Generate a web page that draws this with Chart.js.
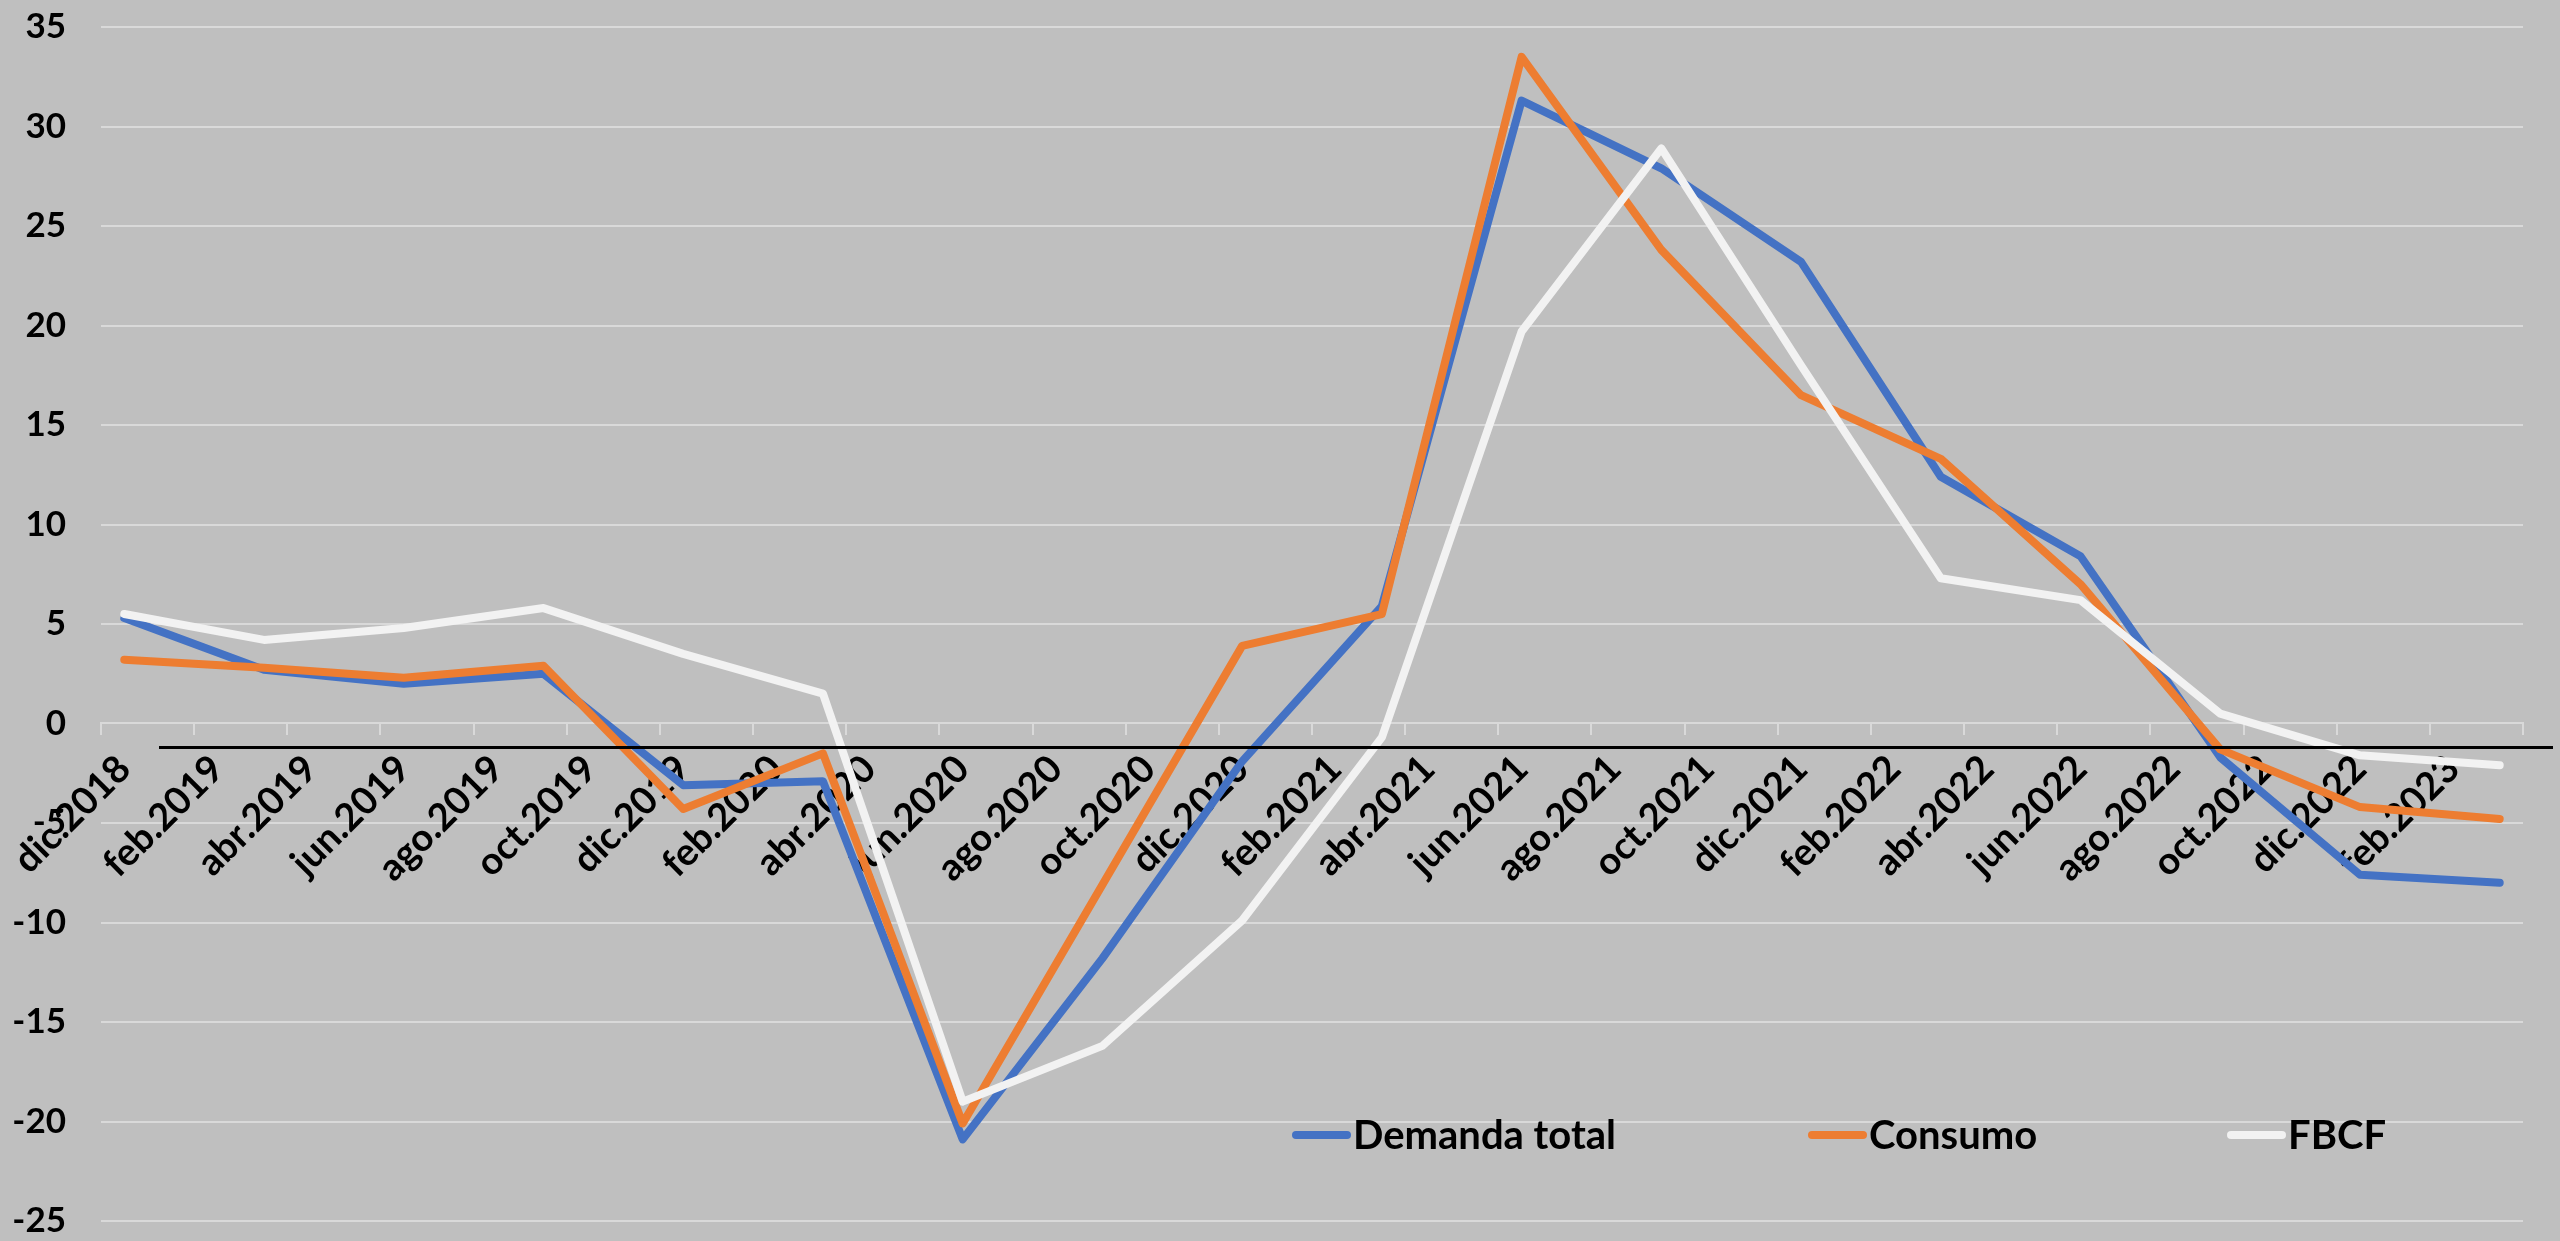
<!DOCTYPE html>
<html>
<head>
<meta charset="utf-8">
<script src="https://cdn.jsdelivr.net/npm/chart.js@4.4.0/dist/chart.umd.min.js"></script>
<style>
    html, body { margin: 0; padding: 0; background: #bfbfbf; overflow: hidden; }
    #contenedor { width: 2560px; height: 1241px; position: relative; }
</style>
</head>
<body>
<div id="contenedor"><canvas id="grafica"></canvas></div>
<script>
// Meses del eje (uno por categoría); solo se rotula uno de cada dos
const meses = [
    'dic.2018',
    'ene.2019', 'feb.2019', 'mar.2019', 'abr.2019', 'may.2019', 'jun.2019', 'jul.2019', 'ago.2019', 'sep.2019', 'oct.2019', 'nov.2019', 'dic.2019',
    'ene.2020', 'feb.2020', 'mar.2020', 'abr.2020', 'may.2020', 'jun.2020', 'jul.2020', 'ago.2020', 'sep.2020', 'oct.2020', 'nov.2020', 'dic.2020',
    'ene.2021', 'feb.2021', 'mar.2021', 'abr.2021', 'may.2021', 'jun.2021', 'jul.2021', 'ago.2021', 'sep.2021', 'oct.2021', 'nov.2021', 'dic.2021',
    'ene.2022', 'feb.2022', 'mar.2022', 'abr.2022', 'may.2022', 'jun.2022', 'jul.2022', 'ago.2022', 'sep.2022', 'oct.2022', 'nov.2022', 'dic.2022',
    'ene.2023', 'feb.2023', 'mar.2023'
];

// Trimestres con dato
const trimestres = [
    'dic.2018', 'mar.2019', 'jun.2019', 'sep.2019', 'dic.2019', 'mar.2020', 'jun.2020', 'sep.2020', 'dic.2020',
    'mar.2021', 'jun.2021', 'sep.2021', 'dic.2021', 'mar.2022', 'jun.2022', 'sep.2022', 'dic.2022', 'mar.2023'
];

const demandaTotal = [5.3, 2.7, 2.0, 2.5, -3.1, -2.9, -20.9, -11.8, -1.9, 5.9, 31.3, 27.9, 23.2, 12.4, 8.4, -1.7, -7.6, -8.0];
const consumo      = [3.2, 2.8, 2.3, 2.9, -4.3, -1.5, -20.1, -8.1, 3.9, 5.5, 33.5, 23.8, 16.5, 13.3, 7.0, -1.3, -4.2, -4.8];
const fbcf         = [5.5, 4.2, 4.8, 5.8, 3.5, 1.5, -19.0, -16.2, -9.9, -0.7, 19.7, 28.9, 18.0, 7.3, 6.2, 0.5, -1.6, -2.1];

const ejeYMin = -25;
const ejeYMax = 35;
const ejeYPaso = 5;

const FUENTE = 'Lato, Calibri, Carlito, sans-serif';

function serie(valores) {
    return valores.map((v, i) => ({ x: trimestres[i], y: v }));
}

// Línea negra horizontal que aparece bajo el eje
const lineaNegra = {
    id: 'lineaNegra',
    afterDatasetsDraw(chart) {
        const ctx = chart.ctx;
        const y = chart.scales.y.getPixelForValue(-1.2);
        ctx.save();
        ctx.strokeStyle = '#000';
        ctx.lineWidth = 3;
        ctx.beginPath();
        ctx.moveTo(159, y);
        ctx.lineTo(2553, y);
        ctx.stroke();
        ctx.restore();
    }
};

// Leyenda dentro del área del gráfico, como en el original
const leyendaInterior = {
    id: 'leyendaInterior',
    afterDraw(chart) {
        const ctx = chart.ctx;
        const posiciones = [1292, 1808, 2227];
        const y = 1135;
        ctx.save();
        ctx.font = 'bold 40px ' + FUENTE;
        ctx.textBaseline = 'middle';
        ctx.textAlign = 'left';
        chart.data.datasets.forEach((ds, i) => {
            const x = posiciones[i];
            ctx.strokeStyle = ds.borderColor;
            ctx.lineWidth = 8;
            ctx.lineCap = 'round';
            ctx.beginPath();
            ctx.moveTo(x + 4, y);
            ctx.lineTo(x + 55, y);
            ctx.stroke();
            ctx.fillStyle = '#000';
            ctx.fillText(ds.label, x + 61, y + 1);
        });
        ctx.restore();
    }
};

const opcionesLinea = {
    borderWidth: 8, tension: 0, pointRadius: 0, pointHoverRadius: 0,
    borderCapStyle: 'round', borderJoinStyle: 'round', fill: false
};

new Chart(document.getElementById('grafica'), {
    type: 'line',
    data: {
        labels: meses,
        datasets: [
            { label: 'Demanda total', data: serie(demandaTotal), borderColor: '#4472C4', order: 2, ...opcionesLinea },
            { label: 'Consumo', data: serie(consumo), borderColor: '#ED7D31', order: 1, ...opcionesLinea },
            { label: 'FBCF', data: serie(fbcf), borderColor: '#F2F2F2', order: 0, ...opcionesLinea }
        ]
    },
    options: {
        responsive: true,
        maintainAspectRatio: false,
        animation: false,
        layout: { padding: { left: 0, right: 37, top: 27, bottom: 20 } },
        plugins: { legend: { display: false }, tooltip: { enabled: false } },
        scales: {
            x: {
                type: 'category',
                position: { y: 0 },
                offset: true,
                z: 1,
                grid: {
                    offset: true,
                    drawOnChartArea: false,
                    drawTicks: true,
                    tickLength: 11,
                    lineWidth: 2,
                    tickColor: (c) => (c.index === undefined || c.index % 2 === 0) ? '#d9d9d9' : 'rgba(0,0,0,0)'
                },
                border: { display: true, color: '#d9d9d9', width: 2 },
                ticks: {
                    autoSkip: false,
                    minRotation: 45,
                    maxRotation: 45,
                    padding: 12,
                    color: '#000',
                    font: { family: FUENTE, weight: 'bold', size: 38 },
                    callback: function (valor, i) { return i % 2 === 0 ? this.getLabelForValue(valor) : ''; }
                }
            },
            y: {
                min: ejeYMin,
                max: ejeYMax,
                grid: { color: '#d9d9d9', lineWidth: 2, drawTicks: false },
                border: { display: false },
                ticks: {
                    stepSize: ejeYPaso,
                    padding: 35,
                    color: '#000',
                    font: { family: FUENTE, weight: 'bold', size: 35 }
                },
                afterFit: (escala) => {
                    escala.width = 101;
                    escala.paddingTop = 0;
                    escala.paddingBottom = 0;
                }
            }
        }
    },
    plugins: [lineaNegra, leyendaInterior]
});
</script>
</body>
</html>
